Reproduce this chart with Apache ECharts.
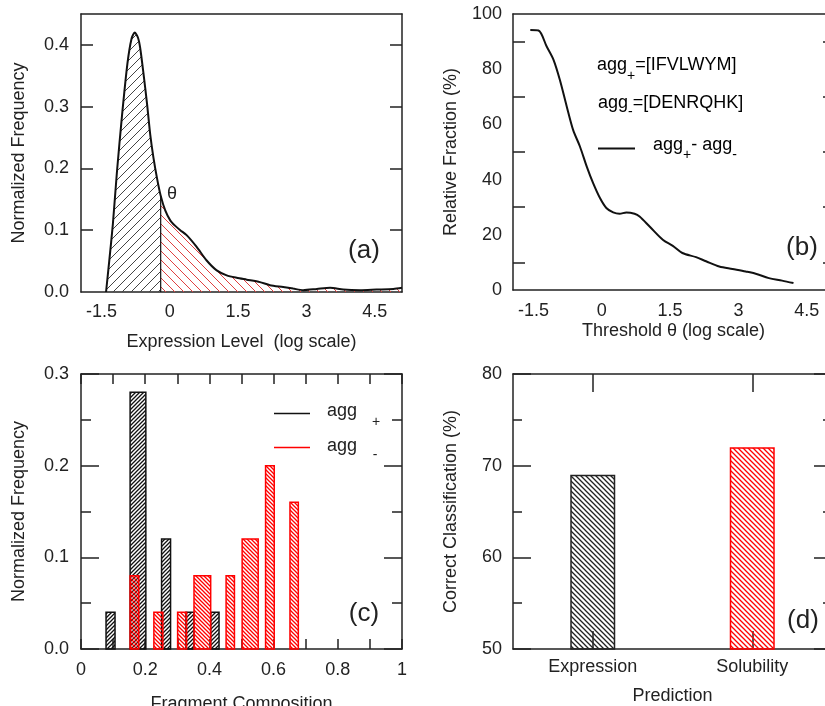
<!DOCTYPE html>
<html>
<head>
<meta charset="UTF-8">
<title>Expression and solubility panels</title>
<script src="https://cdn.jsdelivr.net/npm/echarts@6/dist/echarts.min.js"></script>
<style>
  html, body { margin: 0; padding: 0; background: #fff; }
  #chart { width: 825px; height: 706px; }
</style>
</head>
<body>
<div id="chart"></div>
<script>
// (a) expression level distribution, split at threshold theta
var theta = -0.2;
var aX = [-1.40, -1.33, -1.25, -1.16, -1.05, -0.93, -0.84, -0.77, -0.70, -0.65, -0.58, -0.50, -0.43, -0.36, -0.28, -0.2,
          -0.10, 0.01, 0.12, 0.23, 0.37, 0.59, 0.81, 1.03, 1.25, 1.47, 1.69, 1.98, 2.20, 2.49, 2.71, 2.93,
          3.23, 3.52, 3.81, 4.18, 4.54, 4.91, 5.10];
var aY = [0, 0.05, 0.11, 0.195, 0.285, 0.37, 0.41, 0.420, 0.412, 0.395, 0.355, 0.305, 0.255, 0.218, 0.184, 0.156,
          0.132, 0.116, 0.107, 0.100, 0.092, 0.073, 0.051, 0.035, 0.027, 0.023, 0.020, 0.016, 0.011, 0.008, 0.0055, 0.003,
          0.005, 0.007, 0.004, 0.003, 0.004, 0.005, 0.007];

// (b) relative fraction vs threshold
var bX = [-1.57, -1.39, -1.21, -1.06, -0.92, -0.77, -0.63, -0.48, -0.33, -0.19, -0.04, 0.10, 0.25, 0.39, 0.54, 0.72,
          0.83, 1.05, 1.34, 1.56, 1.77, 2.07, 2.29, 2.58, 2.87, 3.16, 3.38, 3.67, 3.96, 4.21];
var bY = [94.2, 94.0, 88.2, 83.4, 76.1, 66.5, 58.0, 52.0, 44.7, 38.7, 33.3, 29.7, 28.1, 27.6, 28.1, 27.6,
          26.6, 23.0, 18.2, 16.0, 13.4, 11.9, 10.4, 8.5, 7.6, 6.7, 5.9, 4.3, 3.4, 2.5];

// (c) fragment composition histograms (bin left, bin right, frequency)
var plusLeft  = [0.078, 0.153, 0.251, 0.327, 0.404];
var plusRight = [0.106, 0.202, 0.279, 0.352, 0.430];
var plusFreq  = [0.04, 0.28, 0.12, 0.04, 0.04];
var minusLeft  = [0.153, 0.227, 0.301, 0.352, 0.452, 0.502, 0.575, 0.651];
var minusRight = [0.180, 0.255, 0.329, 0.404, 0.478, 0.552, 0.602, 0.677];
var minusFreq  = [0.08, 0.04, 0.04, 0.08, 0.08, 0.12, 0.20, 0.16];

// (d) prediction accuracy
var dCategories = ['Expression', 'Solubility'];
var dValues = [69, 72];

// tick labels
var logTicks = [-1.5, 0, 1.5, 3, 4.5];
var aYLabels = [0, 0.1, 0.2, 0.3, 0.4];
var aYTicks = [0.1, 0.2, 0.3, 0.4];
var bYLabels = [0, 20, 40, 60, 80, 100];
var bYTicks = [10, 30, 50, 70, 90];

var FONT = '"Liberation Sans", Arial, sans-serif';
var INK = '#222';

function hatch(color, size, width, dir) {
  var c = document.createElement('canvas');
  c.width = size; c.height = size;
  var g = c.getContext('2d');
  g.strokeStyle = color; g.lineWidth = width;
  g.beginPath();
  if (dir === '/') {
    g.moveTo(0, size); g.lineTo(size, 0);
    g.moveTo(-1, 1); g.lineTo(1, -1);
    g.moveTo(size - 1, size + 1); g.lineTo(size + 1, size - 1);
  } else {
    g.moveTo(0, 0); g.lineTo(size, size);
    g.moveTo(-1, size - 1); g.lineTo(1, size + 1);
    g.moveTo(size - 1, -1); g.lineTo(size + 1, 1);
  }
  g.stroke();
  return { image: c, repeat: 'repeat' };
}

function pairs(xs, ys, test) {
  var out = [];
  for (var i = 0; i < xs.length; i++) {
    if (!test || test(xs[i])) out.push([xs[i], ys[i]]);
  }
  return out;
}
var thetaY = aY[aX.indexOf(theta)];

var line = { show: true, onZero: false, lineStyle: { color: INK, width: 1.5 } };
var tick = function (len, vals) {
  var t = { show: true, inside: true, length: len, lineStyle: { color: INK, width: 1.5 } };
  if (vals) t.customValues = vals;
  return t;
};
var minor = function (len) {
  return { show: true, splitNumber: 2, length: len, lineStyle: { color: INK, width: 1.5 } };
};
var label = function (extra) {
  var l = { color: INK, fontSize: 18, fontFamily: FONT };
  for (var k in extra) l[k] = extra[k];
  return l;
};
var nameStyle = { color: INK, fontSize: 18, fontFamily: FONT };
var off = { show: false };

function boxes(lefts, rights, freqs) {
  return lefts.map(function (l, i) { return [l, rights[i], freqs[i]]; });
}
function boxRender(fill, stroke) {
  return function (params, api) {
    var p0 = api.coord([api.value(0), api.value(2)]);
    var p1 = api.coord([api.value(1), 0]);
    return {
      type: 'rect',
      shape: { x: p0[0], y: p0[1], width: p1[0] - p0[0], height: p1[1] - p0[1] },
      style: { fill: fill, stroke: stroke, lineWidth: 1.5 }
    };
  };
}

var chart = echarts.init(document.getElementById('chart'), null, { renderer: 'canvas' });

chart.setOption({
  animation: false,
  backgroundColor: '#fff',
  grid: [
    { left: 81, top: 14, width: 321, height: 278, outerBoundsMode: 'none' },
    { left: 513, top: 14, width: 321, height: 276, outerBoundsMode: 'none' },
    { left: 81, top: 374, width: 321, height: 275, outerBoundsMode: 'none' },
    { left: 513, top: 374, width: 319, height: 275, outerBoundsMode: 'none' }
  ],
  xAxis: [
    { gridIndex: 0, type: 'value', min: -1.95, max: 5.1, position: 'bottom', axisLine: line, axisTick: off,
      splitLine: off, axisLabel: label({ customValues: logTicks, margin: 11 }),
      name: 'Expression Level  (log scale)', nameLocation: 'middle', nameGap: 41, nameTextStyle: nameStyle },
    { gridIndex: 0, type: 'value', min: -1.95, max: 5.1, position: 'top', axisLine: line, axisTick: off,
      splitLine: off, axisLabel: off },
    { gridIndex: 1, type: 'value', min: -1.95, max: 5.1, position: 'bottom', axisLine: line, axisTick: off,
      splitLine: off, axisLabel: label({ customValues: logTicks, margin: 12 }),
      name: 'Threshold θ (log scale)', nameLocation: 'middle', nameGap: 32, nameTextStyle: nameStyle },
    { gridIndex: 1, type: 'value', min: -1.95, max: 5.1, position: 'top', axisLine: line, axisTick: off,
      splitLine: off, axisLabel: off },
    { gridIndex: 2, type: 'value', min: 0, max: 1, interval: 0.2, position: 'bottom', axisLine: line,
      axisTick: tick(10), minorTick: minor(10), splitLine: off, minorSplitLine: off, axisLabel: label({ margin: 12 }),
      name: 'Fragment Composition', nameLocation: 'middle', nameGap: 46, nameTextStyle: nameStyle },
    { gridIndex: 2, type: 'value', min: 0, max: 1, interval: 0.2, position: 'top', axisLine: line,
      axisTick: tick(10), minorTick: minor(10), splitLine: off, axisLabel: off },
    { gridIndex: 3, type: 'category', data: dCategories, position: 'bottom', axisLine: line,
      axisTick: { show: true, inside: true, length: 18, alignWithLabel: true, lineStyle: { color: INK, width: 1.5 } },
      axisLabel: label({ margin: 9 }),
      name: 'Prediction', nameLocation: 'middle', nameGap: 38, nameTextStyle: nameStyle },
    { gridIndex: 3, type: 'category', data: dCategories, position: 'top', axisLine: line,
      axisTick: { show: true, inside: true, length: 18, alignWithLabel: true, lineStyle: { color: INK, width: 1.5 } },
      axisLabel: off }
  ],
  yAxis: [
    { gridIndex: 0, type: 'value', min: 0, max: 0.45, position: 'left', axisLine: line, splitLine: off,
      axisTick: tick(12, aYTicks),
      axisLabel: label({ customValues: aYLabels, margin: 12, formatter: function (v) { return v.toFixed(1); } }),
      name: 'Normalized Frequency', nameLocation: 'middle', nameGap: 53, nameTextStyle: nameStyle },
    { gridIndex: 0, type: 'value', min: 0, max: 0.45, position: 'right', axisLine: line, splitLine: off,
      axisTick: tick(12, aYTicks), axisLabel: off },
    { gridIndex: 1, type: 'value', min: 0, max: 100, position: 'left', axisLine: line, splitLine: off,
      axisTick: tick(12, bYTicks),
      axisLabel: label({ customValues: bYLabels, margin: 11 }),
      name: 'Relative Fraction (%)', nameLocation: 'middle', nameGap: 53, nameTextStyle: nameStyle },
    { gridIndex: 1, type: 'value', min: 0, max: 100, position: 'right', axisLine: line, splitLine: off,
      axisTick: tick(11, bYTicks), axisLabel: off },
    { gridIndex: 2, type: 'value', min: 0, max: 0.3, interval: 0.1, position: 'left', axisLine: line, splitLine: off,
      axisTick: tick(18), minorTick: minor(10),
      axisLabel: label({ margin: 12, formatter: function (v) { return v.toFixed(1); } }),
      name: 'Normalized Frequency', nameLocation: 'middle', nameGap: 53, nameTextStyle: nameStyle },
    { gridIndex: 2, type: 'value', min: 0, max: 0.3, interval: 0.1, position: 'right', axisLine: line, splitLine: off,
      axisTick: tick(18), minorTick: minor(10), axisLabel: off },
    { gridIndex: 3, type: 'value', min: 50, max: 80, interval: 10, position: 'left', axisLine: line, splitLine: off,
      axisTick: tick(18), minorTick: minor(9), axisLabel: label({ margin: 11 }),
      name: 'Correct Classification (%)', nameLocation: 'middle', nameGap: 53, nameTextStyle: nameStyle },
    { gridIndex: 3, type: 'value', min: 50, max: 80, interval: 10, position: 'right', axisLine: line, splitLine: off,
      axisTick: tick(18), minorTick: minor(9), axisLabel: off }
  ],
  series: [
    { type: 'line', xAxisIndex: 0, yAxisIndex: 0, data: pairs(aX, aY, function (x) { return x <= theta; }),
      smooth: 0.25, symbol: 'none', lineStyle: { width: 0 },
      areaStyle: { color: hatch('#444', 9, 1, '/'), opacity: 1 } },
    { type: 'line', xAxisIndex: 0, yAxisIndex: 0, data: pairs(aX, aY, function (x) { return x >= theta; }),
      smooth: 0.25, symbol: 'none', lineStyle: { width: 0 },
      areaStyle: { color: hatch('#e04040', 9, 1, '\\'), opacity: 1 } },
    { type: 'line', xAxisIndex: 0, yAxisIndex: 0, data: pairs(aX, aY), smooth: 0.25, symbol: 'none',
      lineStyle: { color: '#111', width: 2 } },
    { type: 'line', xAxisIndex: 0, yAxisIndex: 0, data: [[theta, 0], [theta, thetaY]], symbol: 'none',
      lineStyle: { color: '#111', width: 1.2 } },
    { type: 'line', xAxisIndex: 2, yAxisIndex: 2, data: pairs(bX, bY), smooth: 0.3, symbol: 'none',
      lineStyle: { color: '#111', width: 2 } },
    { type: 'custom', xAxisIndex: 4, yAxisIndex: 4, data: boxes(plusLeft, plusRight, plusFreq),
      encode: { x: [0, 1], y: 2 }, renderItem: boxRender(hatch('#111', 4, 1.3, '/'), '#111') },
    { type: 'custom', xAxisIndex: 4, yAxisIndex: 4, data: boxes(minusLeft, minusRight, minusFreq),
      encode: { x: [0, 1], y: 2 }, renderItem: boxRender(hatch('#ff0000', 4, 1.3, '\\'), '#ff0000') },
    { type: 'bar', xAxisIndex: 6, yAxisIndex: 6, barWidth: 45,
      data: dValues.map(function (v, i) {
        var c = i === 0 ? '#222' : '#ff0000';
        return { value: v, itemStyle: { color: hatch(c, 5, 1.3, '\\'), borderColor: c, borderWidth: 1.5 } };
      }) }
  ],
  graphic: [
    { type: 'text', style: { x: 172, y: 194, text: 'θ', fill: INK, font: '18px ' + FONT, align: 'center', verticalAlign: 'middle' } },
    { type: 'text', style: { x: 364, y: 251, text: '(a)', fill: INK, font: '26px ' + FONT, align: 'center', verticalAlign: 'middle' } },
    { type: 'text', style: { x: 802, y: 248, text: '(b)', fill: INK, font: '26px ' + FONT, align: 'center', verticalAlign: 'middle' } },
    { type: 'text', style: { x: 364, y: 614, text: '(c)', fill: INK, font: '26px ' + FONT, align: 'center', verticalAlign: 'middle' } },
    { type: 'text', style: { x: 803, y: 621, text: '(d)', fill: INK, font: '26px ' + FONT, align: 'center', verticalAlign: 'middle' } },
    // (b) annotations
    { type: 'text', style: { x: 597, y: 56, text: '{m|agg}{s|+}{m|=[IFVLWYM]}', verticalAlign: 'top',
      rich: { m: { fontSize: 18, fontFamily: FONT, color: INK, lineHeight: 20, verticalAlign: 'top' },
              s: { fontSize: 14, fontFamily: FONT, color: INK, lineHeight: 14, padding: [13, 0, 0, 0], verticalAlign: 'top' } } } },
    { type: 'text', style: { x: 598, y: 94, text: '{m|agg}{s|-}{m|=[DENRQHK]}', verticalAlign: 'top',
      rich: { m: { fontSize: 18, fontFamily: FONT, color: INK, lineHeight: 20, verticalAlign: 'top' },
              s: { fontSize: 14, fontFamily: FONT, color: INK, lineHeight: 14, padding: [11, 0, 0, 0], verticalAlign: 'top' } } } },
    { type: 'line', shape: { x1: 598, y1: 148.5, x2: 635, y2: 148.5 }, style: { stroke: '#111', lineWidth: 2 } },
    { type: 'text', style: { x: 653, y: 136, text: '{m|agg}{s|+}{m|- agg}{s|-}', verticalAlign: 'top',
      rich: { m: { fontSize: 18, fontFamily: FONT, color: INK, lineHeight: 20, verticalAlign: 'top' },
              s: { fontSize: 14, fontFamily: FONT, color: INK, lineHeight: 14, padding: [12, 0, 0, 0], verticalAlign: 'top' } } } },
    // (c) legend
    { type: 'line', shape: { x1: 274, y1: 413.5, x2: 310, y2: 413.5 }, style: { stroke: '#111', lineWidth: 1.5 } },
    { type: 'line', shape: { x1: 274, y1: 447.5, x2: 310, y2: 447.5 }, style: { stroke: '#ff0000', lineWidth: 1.5 } },
    { type: 'text', style: { x: 327, y: 411, text: 'agg', fill: INK, font: '18px ' + FONT, verticalAlign: 'middle' } },
    { type: 'text', style: { x: 376, y: 422, text: '+', fill: INK, font: '14px ' + FONT, align: 'center', verticalAlign: 'middle' } },
    { type: 'text', style: { x: 327, y: 446, text: 'agg', fill: INK, font: '18px ' + FONT, verticalAlign: 'middle' } },
    { type: 'text', style: { x: 375, y: 455, text: '-', fill: INK, font: '14px ' + FONT, align: 'center', verticalAlign: 'middle' } }
  ]
});
</script>
</body>
</html>
